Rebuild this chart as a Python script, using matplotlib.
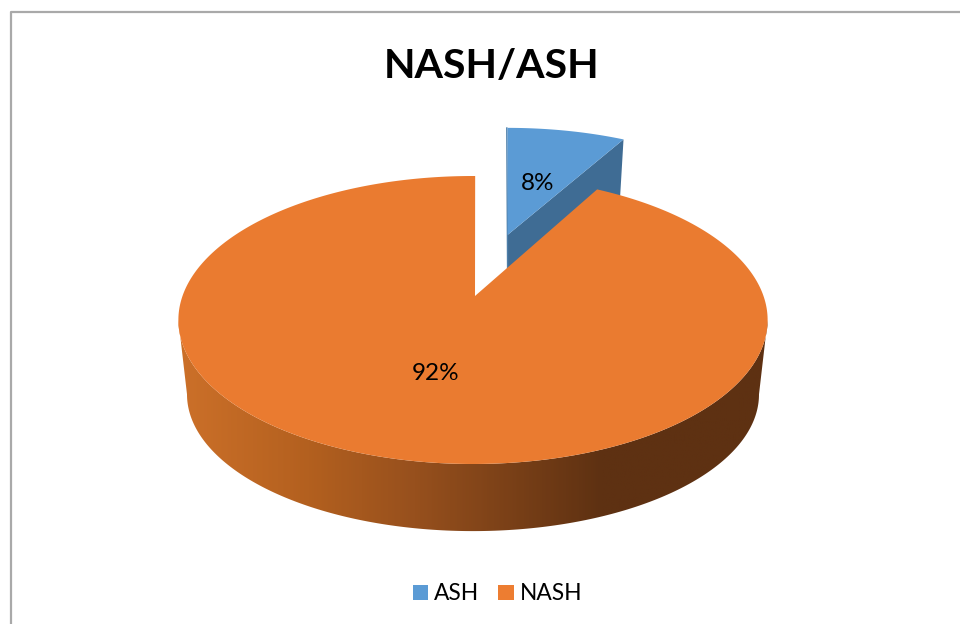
import numpy as np
import matplotlib
matplotlib.use("Agg")
import matplotlib.pyplot as plt
from matplotlib.colors import LinearSegmentedColormap
from matplotlib.patches import Patch, Polygon

labels = ["ASH", "NASH"]
shares = [8, 92]
title = "NASH/ASH"

blue = "#5b9bd5"
blue_side = "#3f6c94"
orange = "#ea7b30"
legend_orange = "#ed7d31"
frame = "#a9a9a9"

plt.rcParams["font.family"] = ["Lato", "DejaVu Sans"]

# the tilted disc is a circle pushed through a perspective divide
TILT = 1 / 6
START = 0.5


def rim(phi, x0, y0, kx, ky):
    rad = np.radians(phi)
    u, v = np.sin(rad), np.cos(rad)
    d = 1 + TILT * v
    return np.column_stack([x0 + kx * u / d, y0 - ky * v / d])


ash_end = 360 * shares[0] / sum(shares)
ash_phi = np.linspace(0, ash_end, 40)
nash_phi = np.linspace(START + ash_end, START + 360, 400)

top_disc = (473, 296, 290.5, 140)
low_disc = (473, 371.5, 282, 133)
ash_disc = (507.5, 235, 276, 125)
ash_low = (507, 300, 268, 125)
top_apex = (475, 296)

fig = plt.figure(figsize=(9.6, 6.24), dpi=100)
ax = fig.add_axes([0, 0, 1, 1])
ax.set_xlim(0, 960)
ax.set_ylim(624, 0)
ax.axis("off")

# chart border, open on the right and bottom
ax.plot([10.5, 10.5, 960], [624, 11.5, 11.5], color=frame, lw=1.6, zorder=1)

# exploded slice: outer wall, inner wall, then the top face
ash_top = rim(ash_phi, *ash_disc)
wall_end = rim(np.array([ash_end]), *ash_low)
ax.add_patch(Polygon([ash_disc[:2], ash_top[-1], wall_end[0], (507.5, 290)],
                     fc=blue_side, ec="none", zorder=2))
ax.add_patch(Polygon(np.vstack([[ash_disc[:2]], ash_top]), fc=blue,
                     ec="none", zorder=3))
ax.plot([506.8, 507.6], [128, 272], color="#4d7ea8", lw=1, zorder=2.5)

# front wall of the big slice, shaded left to right
side_phi = np.linspace(99.6, 260.4, 200)
side = np.vstack([rim(side_phi, *top_disc), rim(side_phi, *low_disc)[::-1]])
wall = Polygon(side, fc="none", ec="none", zorder=4)
ax.add_patch(wall)
shade = LinearSegmentedColormap.from_list(
    "wall",
    [(0.0, "#cc7029"), (0.22, "#b3601f"), (0.40, "#97501d"),
     (0.72, "#5e3112"), (1.0, "#5e3112")],
)
img = ax.imshow(np.linspace(0, 1, 300)[None, :], cmap=shade, aspect="auto",
                extent=(178, 768, 540, 300), zorder=4)
img.set_clip_path(wall)
ax.set_xlim(0, 960)
ax.set_ylim(624, 0)

ax.add_patch(Polygon(np.vstack([[top_apex], rim(nash_phi, *top_disc)]),
                     fc=orange, ec="none", zorder=5))

ax.text(537.5, 183, f"{shares[0]}%", fontsize=17.5, ha="center", va="center",
        color="black", zorder=6)
ax.text(435.5, 373, f"{shares[1]}%", fontsize=17.5, ha="center", va="center",
        color="black", zorder=6)

ax.text(491.5, 66, title, fontsize=29.5, fontweight="bold", ha="center",
        va="center", color="black", zorder=6)

handles = [Patch(fc=blue, ec="none"), Patch(fc=legend_orange, ec="none")]
ax.legend(handles, labels, loc="center", bbox_to_anchor=(497.5 / 960, 1 - 594 / 624),
          ncol=2, frameon=False, fontsize=16.4, handlelength=0.66, handleheight=0.66,
          handletextpad=0.27, columnspacing=0.85, borderpad=0)

fig.savefig("out.png", dpi=100)
